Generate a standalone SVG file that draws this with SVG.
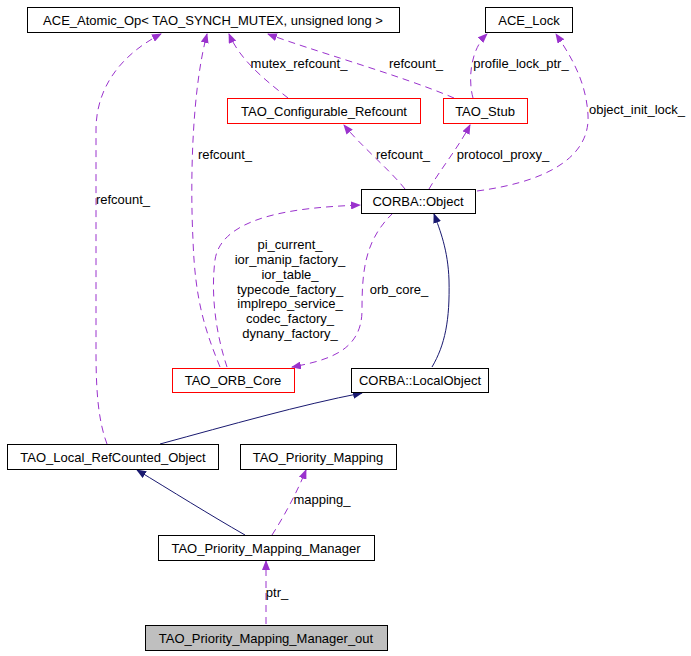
<svg xmlns="http://www.w3.org/2000/svg" width="691" height="656" viewBox="0 0 691 656">
<style>
text{font-family:"Liberation Sans",Arial,sans-serif;font-size:13px;fill:#000;text-anchor:middle}
.n rect{fill:#fff;stroke:#000;stroke-width:1}
.r rect{stroke:#f00}
.g rect{fill:#bfbfbf}
.d{fill:none;stroke:#9a32cd;stroke-dasharray:7,5}
.s{fill:none;stroke:#191970}
</style>
<defs>
<marker id="p" markerWidth="10" markerHeight="8" refX="9" refY="4" orient="auto" markerUnits="userSpaceOnUse"><path d="M0,0L10,4L0,8z" fill="#9a32cd"/></marker>
<marker id="b" markerWidth="10" markerHeight="8" refX="9" refY="4" orient="auto" markerUnits="userSpaceOnUse"><path d="M0,0L10,4L0,8z" fill="#191970"/></marker>
</defs>
<rect width="691" height="656" fill="#fff"/>
<g id="connectors">
<path class="d" marker-end="url(#p)" d="M107,444C98,420 96,390 96,350L96,130C96,80 130,50 161,34"/>
<path class="d" marker-end="url(#p)" d="M220,367C205,330 195,300 193,240C190,180 192,90 207,34"/>
<path class="d" marker-end="url(#p)" d="M288,98C265,80 240,60 229,34"/>
<path class="d" marker-end="url(#p)" d="M454,98C400,75 310,50 268,34"/>
<path class="d" marker-end="url(#p)" d="M473,98C468,80 470,50 487,34"/>
<path class="d" marker-end="url(#p)" d="M477,191C560,180 590,150 588,115C586,80 570,55 556,34"/>
<path class="d" marker-end="url(#p)" d="M405,189C390,170 360,145 344,125"/>
<path class="d" marker-end="url(#p)" d="M429,189C440,170 460,145 470,125"/>
<path class="d" marker-end="url(#p)" d="M227,367C218,340 210,300 215,260C222,210 320,207 360,205"/>
<path class="d" marker-end="url(#p)" d="M393,213C365,240 362,270 362,310C362,350 330,360 292,367"/>
<path class="d" marker-end="url(#p)" d="M272,535C285,515 298,490 306,470"/>
<path class="d" marker-end="url(#p)" d="M266,624L266,561"/>
<path class="s" marker-end="url(#b)" d="M432,367C445,345 450,320 449,280C448,250 440,230 434,214"/>
<path class="s" marker-end="url(#b)" d="M160,444C230,425 300,405 362,393"/>
<path class="s" marker-end="url(#b)" d="M245,535C210,515 170,490 137,470"/>
<text x="123" y="204">refcount_</text>
<text x="225" y="159">refcount_</text>
<text x="299" y="68">mutex_refcount_</text>
<text x="416" y="68">refcount_</text>
<text x="521" y="68">profile_lock_ptr_</text>
<text x="637" y="114">object_init_lock_</text>
<text x="403" y="159">refcount_</text>
<text x="503" y="159">protocol_proxy_</text>
<text x="290" y="249">pi_current_</text>
<text x="290" y="264">ior_manip_factory_</text>
<text x="290" y="279">ior_table_</text>
<text x="290" y="294">typecode_factory_</text>
<text x="290" y="308">implrepo_service_</text>
<text x="290" y="323">codec_factory_</text>
<text x="290" y="338">dynany_factory_</text>
<text x="399" y="294">orb_core_</text>
<text x="322" y="504">mapping_</text>
<text x="277" y="597">ptr_</text>
</g>
<g id="ace_atomic" class="n"><rect x="27.5" y="7.5" width="372" height="25"/><text x="213" y="25">ACE_Atomic_Op&lt; TAO_SYNCH_MUTEX, unsigned long &gt;</text></g>
<g id="ace_lock" class="n"><rect x="485.5" y="7.5" width="87" height="25"/><text x="529" y="25">ACE_Lock</text></g>
<g id="cfg_refcount" class="n r"><rect x="227.5" y="98.5" width="193" height="25"/><text x="324" y="116">TAO_Configurable_Refcount</text></g>
<g id="tao_stub" class="n r"><rect x="443.5" y="98.5" width="84" height="25"/><text x="485" y="116">TAO_Stub</text></g>
<g id="corba_object" class="n"><rect x="361.5" y="189.5" width="114" height="24"/><text x="418" y="206">CORBA::Object</text></g>
<g id="orb_core" class="n r"><rect x="172.5" y="368.5" width="122" height="24"/><text x="233" y="385">TAO_ORB_Core</text></g>
<g id="local_object" class="n"><rect x="351.5" y="368.5" width="137" height="24"/><text x="420" y="385">CORBA::LocalObject</text></g>
<g id="local_refcounted" class="n"><rect x="7.5" y="444.5" width="211" height="25"/><text x="113" y="462">TAO_Local_RefCounted_Object</text></g>
<g id="priority_mapping" class="n"><rect x="240.5" y="444.5" width="156" height="25"/><text x="318" y="462">TAO_Priority_Mapping</text></g>
<g id="pm_manager" class="n"><rect x="158.5" y="535.5" width="216" height="25"/><text x="266" y="553">TAO_Priority_Mapping_Manager</text></g>
<g id="pm_manager_out" class="n g"><rect x="145.5" y="625.5" width="242" height="25"/><text x="266" y="643">TAO_Priority_Mapping_Manager_out</text></g>
</svg>
